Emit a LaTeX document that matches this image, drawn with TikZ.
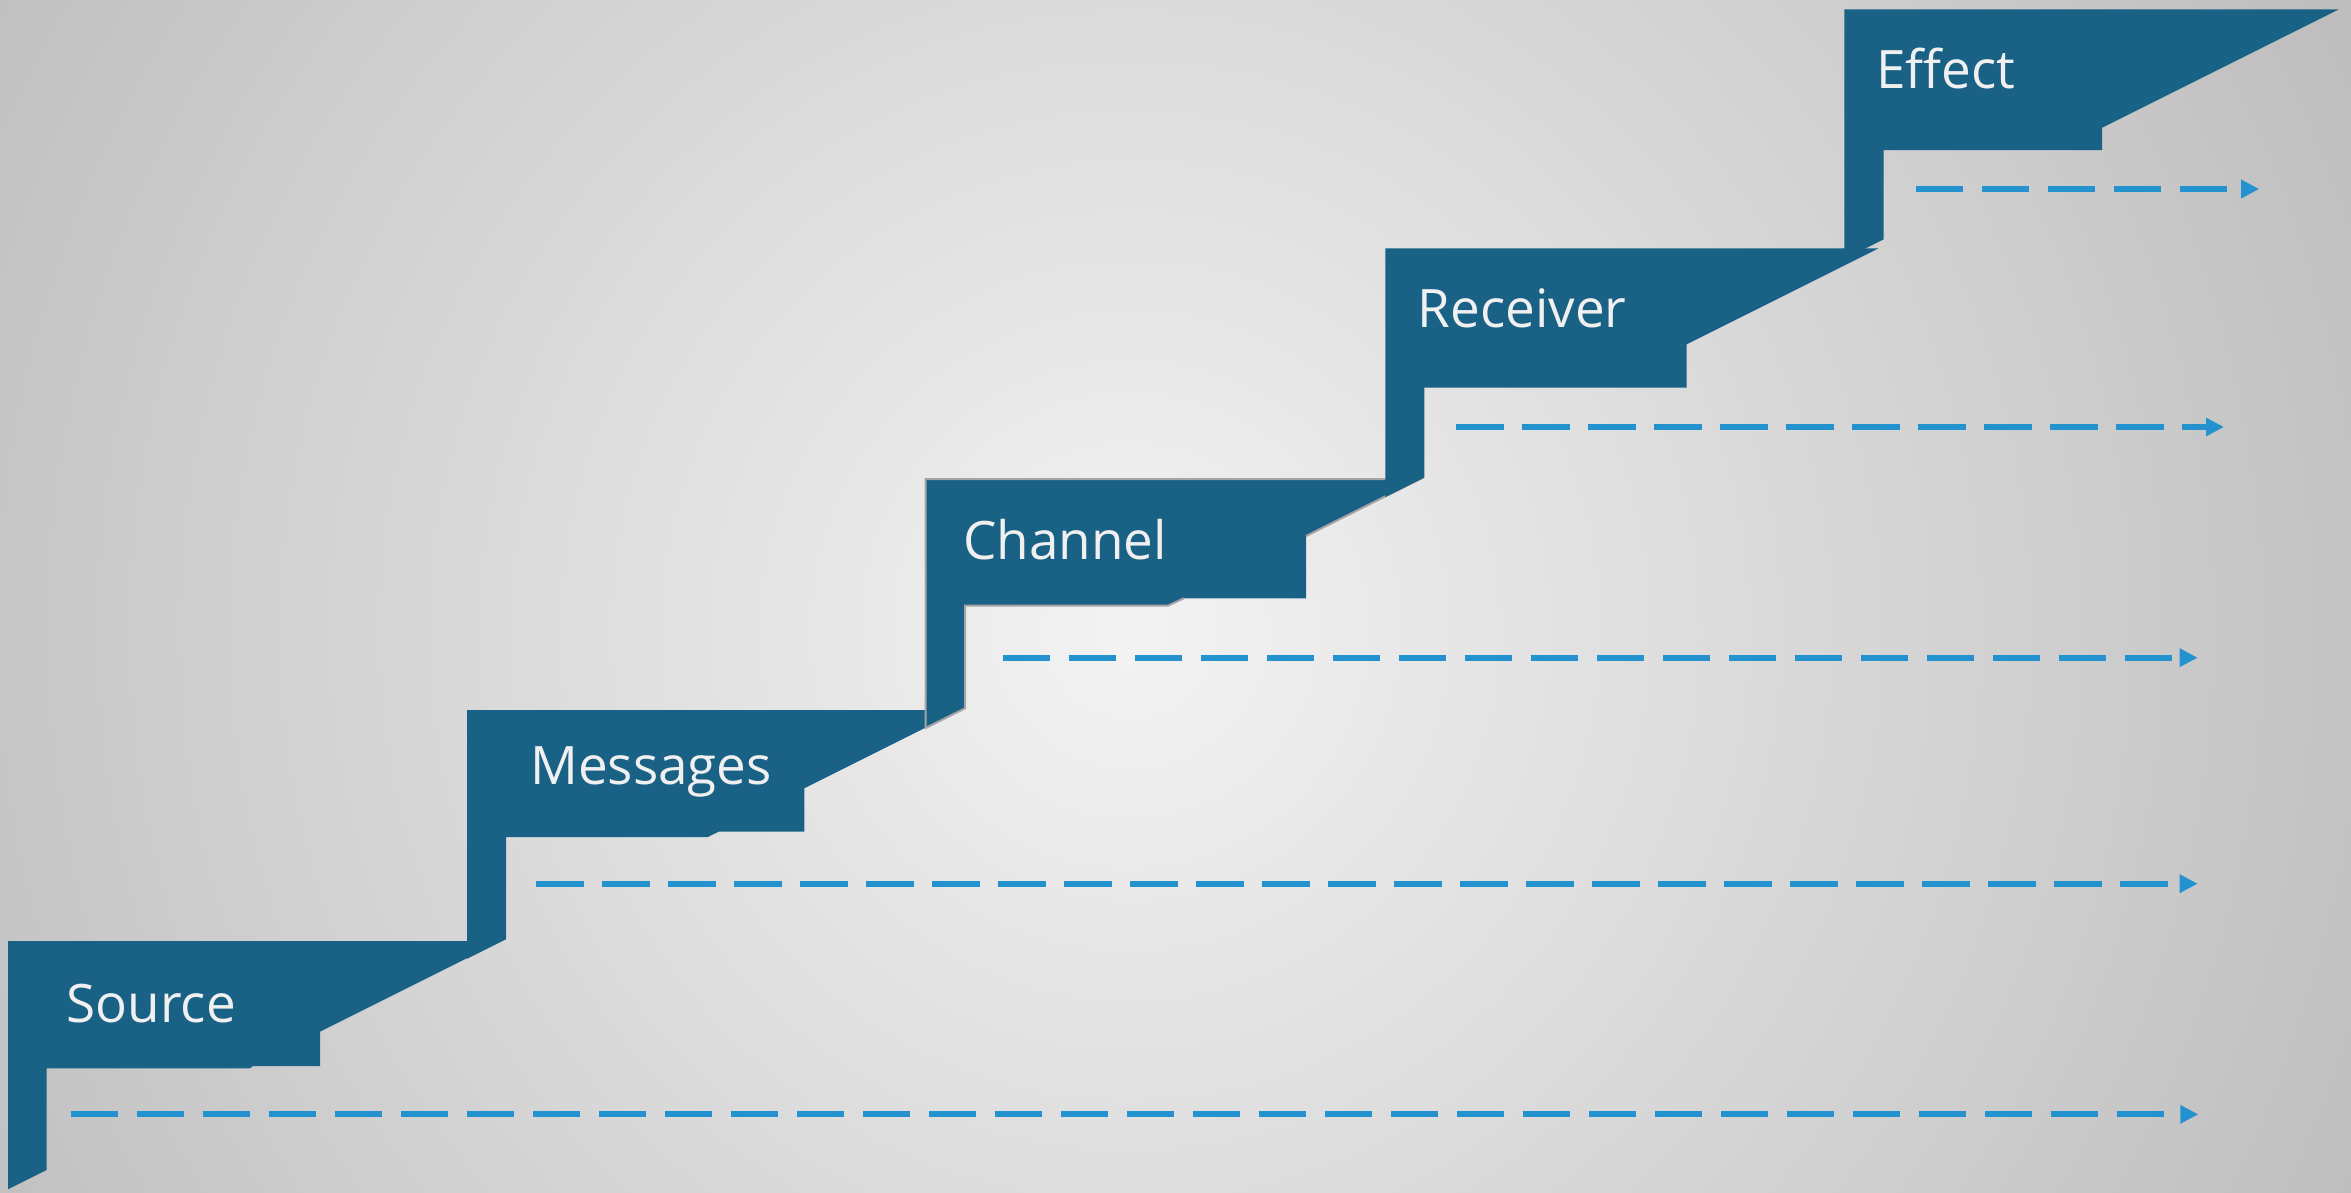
\documentclass[tikz,border=0pt]{standalone}
\usepackage{fontspec}
\setmainfont{Open Sans}
\usetikzlibrary{arrows.meta}
\definecolor{stepblue}{HTML}{196185}
\definecolor{flowblue}{HTML}{2492CE}
\definecolor{bgcore}{HTML}{F3F3F3}
\definecolor{bgrim}{HTML}{B8B8B8}
\definecolor{edgegray}{HTML}{A5A5A5}

\begin{document}
\begin{tikzpicture}[x=1pt,y=-1pt,
    stepfill/.style={fill=stepblue},
    steplabel/.style={text=white!94!black,font=\fontsize{53}{60}\selectfont,anchor=base west,inner sep=0pt},
    flow/.style={draw=flowblue,line width=6pt,dash pattern=on 47.5pt off 18.5pt,-{Triangle[length=18pt,width=17.5pt]}}]
  \useasboundingbox (0,0) rectangle (2351,1192);
  \begin{scope}
    \clip (0,0) rectangle (2351,1192);
    \fill[bgrim] (0,0) rectangle (2351,1192);
    \shade[inner color=bgcore,outer color=bgrim] (1130,630) circle (1500);
  \end{scope}

  \fill[stepfill] (8,941) -- (501.4,941) -- (320,1031.7) -- (320,1066) -- (253,1066) -- (250,1068.3)
    -- (46.7,1068.3) -- (46.7,1170) -- (8,1189.3) -- cycle;
  \fill[stepfill] (467.1,710) -- (960.9,710) -- (804.3,788.3) -- (804.3,831.7) -- (718.6,831.7) -- (707.9,837)
    -- (506,837) -- (506,939.3) -- (467.1,958.8) -- cycle;
  \fill[stepfill] (925.7,479) -- (1420.1,479) -- (1306.1,536) -- (1306.1,598.3) -- (1183.9,598.3) -- (1167.9,605.7)
    -- (965,605.7) -- (965,708.3) -- (925.7,728) -- cycle;
  \draw[edgegray,line width=2pt] (1183.9,598.3) -- (1167.9,605.7) -- (965,605.7) -- (965,708.3) -- (925.7,728)
    -- (925.7,479) -- (1420.1,479) -- (1306.1,536);
  \fill[stepfill] (1385.3,248.3) -- (1878.7,248.3) -- (1686.7,344.3) -- (1686.7,387.7) -- (1424.3,387.7)
    -- (1424.3,477.7) -- (1385.3,497.2) -- cycle;
  \fill[stepfill] (1844.4,9.3) -- (2338.9,9.3) -- (2102.1,127.7) -- (2102.1,150) -- (1883.7,150)
    -- (1883.7,239.3) -- (1844.4,259) -- cycle;

  \node[steplabel] (source) at (66.5,1022.7) {Source};
  \node[steplabel] (messages) at (530,784) {Messages};
  \node[steplabel] (channel) at (963,559) {Channel};
  \node[steplabel] (receiver) at (1417.5,327.7) {Receiver};
  \node[steplabel] (effect) at (1876,88.3) {Effect};

  \foreach \row/\sx/\tx/\y in {src/70.7/2198.3/1114.3,msg/536.4/2197.7/883.7,chn/1002.5/2197.7/657.7,
      rcv/1456/2224/427,eff/1915.8/2259.2/189}{
    \coordinate (\row-from) at (\sx,\y);
    \coordinate (\row-to) at (\tx,\y);
    \draw[flow] (\row-from) -- (\row-to);
  }
\end{tikzpicture}
\end{document}
